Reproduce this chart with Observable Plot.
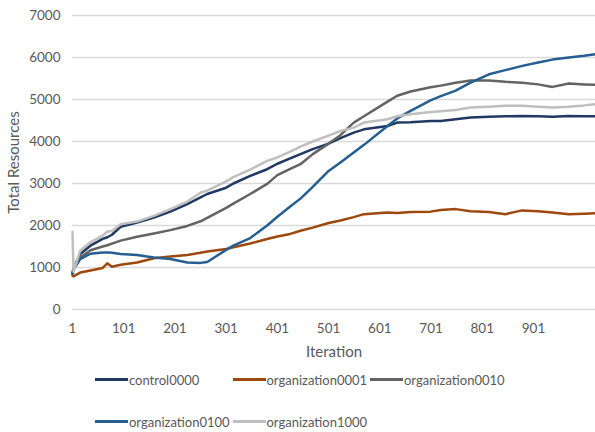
<!DOCTYPE html>
<html>
<head>
<meta charset="utf-8">
<script src="https://cdn.jsdelivr.net/npm/d3@7"></script>
<script src="https://cdn.jsdelivr.net/npm/@observablehq/plot@0.6"></script>
<style>
  body { margin: 0; background: #fff; font-family: Lato, "Open Sans", sans-serif; }
  #chart { position: relative; width: 595px; height: 432px; }
  #legend { position: absolute; left: 95px; top: 370px; display: grid;
            grid-template-columns: repeat(3, 137.5px); row-gap: 23px; }
  .item { display: flex; align-items: center; font-size: 13px; color: #595959; height: 19px; white-space: nowrap; }
  .swatch { width: 33px; height: 3px; margin-right: 1px; }
</style>
</head>
<body>
<div id="chart"><div id="legend"></div></div>
<script>
const iterations = [1, 3, 16, 36, 60, 69, 78, 95, 127, 160, 192, 225, 251, 264, 301, 315, 348, 381, 401, 426, 446, 470, 501, 524, 550, 570, 616, 635, 661, 700, 720, 749, 778, 814, 846, 879, 910, 938, 970, 1000, 1021];

const control0000 = [850, 1000, 1320, 1520, 1680, 1720, 1780, 1970, 2070, 2190, 2330, 2510, 2670, 2750, 2900, 3000, 3180, 3340, 3470, 3600, 3700, 3820, 3950, 4080, 4210, 4290, 4370, 4450, 4460, 4490, 4490, 4530, 4570, 4590, 4600, 4610, 4600, 4590, 4610, 4600, 4600];
const organization0001 = [800, 790, 880, 930, 990, 1100, 1020, 1065, 1120, 1220, 1260, 1300, 1350, 1380, 1440, 1480, 1570, 1680, 1740, 1800, 1875, 1950, 2060, 2120, 2200, 2270, 2310, 2300, 2320, 2330, 2370, 2390, 2340, 2320, 2270, 2360, 2340, 2310, 2270, 2280, 2290];
const organization0010 = [850, 950, 1240, 1410, 1500, 1530, 1570, 1640, 1730, 1810, 1890, 1990, 2100, 2180, 2420, 2520, 2750, 2990, 3200, 3350, 3460, 3700, 3950, 4150, 4450, 4600, 4950, 5090, 5190, 5290, 5330, 5400, 5450, 5450, 5420, 5400, 5360, 5300, 5380, 5360, 5350];
const organization0100 = [850, 950, 1200, 1330, 1355, 1360, 1350, 1320, 1295, 1240, 1200, 1120, 1110, 1130, 1420, 1520, 1700, 2000, 2210, 2450, 2640, 2920, 3300, 3500, 3740, 3920, 4370, 4550, 4730, 4980, 5080, 5210, 5400, 5600, 5700, 5800, 5880, 5950, 6000, 6040, 6080];
const organization1000 = [1850, 900, 1400, 1600, 1760, 1850, 1870, 2030, 2095, 2230, 2390, 2570, 2780, 2830, 3050, 3150, 3330, 3540, 3620, 3760, 3880, 4000, 4140, 4250, 4330, 4450, 4530, 4600, 4650, 4700, 4720, 4750, 4810, 4830, 4850, 4850, 4830, 4810, 4830, 4860, 4890];

const seriesNames = ["control0000", "organization0001", "organization0010", "organization0100", "organization1000"];
const seriesValues = [control0000, organization0001, organization0010, organization0100, organization1000];
const seriesColors = ["#203864", "#9E480E", "#636363", "#255E91", "#BFBFBF"];

const xTicks = [1, 101, 201, 301, 401, 501, 601, 701, 801, 901];
const yTicks = [0, 1000, 2000, 3000, 4000, 5000, 6000, 7000];

const rows = seriesNames.flatMap((name, s) =>
  iterations.map((it, i) => ({series: name, iteration: it, value: seriesValues[s][i]})));

const blank = () => "";

const plot = Plot.plot({
  width: 595,
  height: 365,
  marginTop: 15,
  marginBottom: 56,
  marginLeft: 72,
  marginRight: 0,
  style: {fontFamily: "Lato, 'Open Sans', sans-serif", fontSize: "14px", color: "#595959"},
  x: {domain: [1, 1022]},
  y: {domain: [0, 7000]},
  color: {domain: seriesNames, range: seriesColors},
  marks: [
    Plot.ruleY(yTicks, {stroke: "#D9D9D9", strokeWidth: 1.3}),
    // tick labels
    Plot.axisX({ticks: xTicks, tickSize: 0, tickPadding: 14, fontSize: 13.5, tickFormat: d => String(d), label: null}),
    Plot.axisY({ticks: yTicks, tickSize: 0, tickPadding: 12, fontSize: 13.5, tickFormat: d => String(d), label: null}),
    // axis titles, set a little larger than the tick labels
    Plot.axisX({ticks: xTicks, tickSize: 0, fontSize: 15, tickFormat: blank,
      label: "Iteration", labelAnchor: "center", labelArrow: "none", labelOffset: 47}),
    Plot.axisY({ticks: yTicks, tickSize: 0, fontSize: 15, tickFormat: blank,
      label: "Total Resources", labelAnchor: "center", labelArrow: "none", labelOffset: 64}),
    Plot.line(rows, {x: "iteration", y: "value", z: "series", stroke: "series",
      strokeWidth: 2.5, strokeLinejoin: "round", strokeLinecap: "round"})
  ]
});
plot.style.position = "absolute";
plot.style.left = "0px";
plot.style.top = "0px";
document.getElementById("chart").prepend(plot);

const legend = d3.select("#legend");
seriesNames.forEach((name, i) => {
  const item = legend.append("div").attr("class", "item");
  item.append("div").attr("class", "swatch").style("background", seriesColors[i]);
  item.append("span").text(name);
});
</script>
</body>
</html>
